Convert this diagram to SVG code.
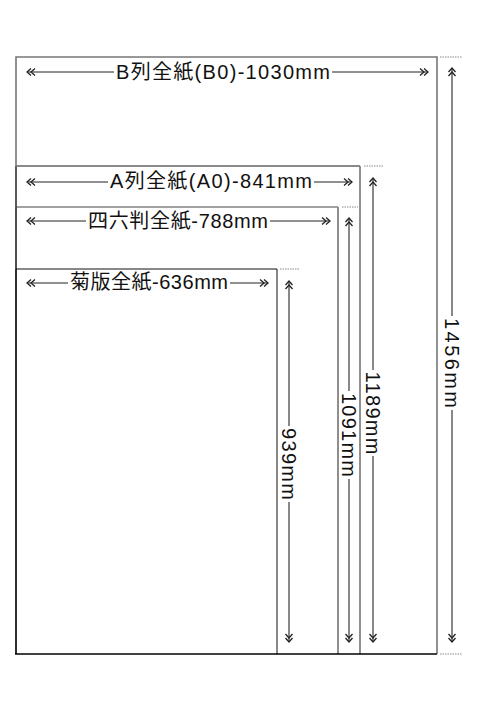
<svg xmlns="http://www.w3.org/2000/svg" width="480" height="720" viewBox="0 0 480 720">
<style>
.lbl{font-family:"Liberation Sans","Noto Sans CJK JP",sans-serif;font-size:20px;fill:#111}
.hl{stroke:#222;stroke-width:1;fill:none}
.vl{stroke:#888;stroke-width:2;fill:none}
.dot{stroke:#888;stroke-width:1;stroke-dasharray:1.5 1}
</style>
<defs>
<marker id="ah" viewBox="0 0 10 10" markerWidth="10" markerHeight="10" refX="9" refY="5" orient="auto-start-reverse" markerUnits="userSpaceOnUse">
<path d="M1,1.5 L5,5 L1,8.5 M5,1.5 L9,5 L5,8.5" fill="none" stroke="#222" stroke-width="1.3"/>
</marker>
</defs>
<rect width="480" height="720" fill="#fff"/>
<g id="b0">
<path d="M16,654 V57 H437 V654" fill="none" stroke="#777" stroke-width="1.6"/>
<text class="lbl" x="116" y="78.5" textLength="214" lengthAdjust="spacing">B列全紙(B0)-1030mm</text>
<text class="lbl" transform="translate(452,363) rotate(90)" x="0" y="7" text-anchor="middle" textLength="90" lengthAdjust="spacing">1456mm</text>
</g>
<g id="a0">
<path d="M16,654 V166 H360 V654" fill="none" stroke="#222" stroke-width="1"/>
<path d="M16,166 H360" stroke="#888" stroke-width="1.5"/>
<text class="lbl" x="110" y="188" textLength="202" lengthAdjust="spacing">A列全紙(A0)-841mm</text>
<text class="lbl" transform="translate(373,413) rotate(90)" x="0" y="7" text-anchor="middle" textLength="83" lengthAdjust="spacing">1189mm</text>
</g>
<g id="shiroku">
<path d="M16,654 V207 H338 V654" fill="none" stroke="#444" stroke-width="1"/>
<path d="M338,207 V654" stroke="#888" stroke-width="1.5"/>
<text class="lbl" x="88" y="228" textLength="180" lengthAdjust="spacing">四六判全紙-788mm</text>
<text class="lbl" transform="translate(349,435) rotate(90)" x="0" y="7" text-anchor="middle" textLength="84" lengthAdjust="spacing">1091mm</text>
</g>
<g id="kiku">
<path d="M16,654 V269 H277 V654" fill="none" stroke="#111" stroke-width="1"/>
<text class="lbl" x="70" y="289" textLength="158" lengthAdjust="spacing">菊版全紙-636mm</text>
<text class="lbl" transform="translate(289,464) rotate(90)" x="0" y="7" text-anchor="middle" textLength="72" lengthAdjust="spacing">939mm</text>
</g>
<path d="M15,654 H437" stroke="#000" stroke-width="1.6"/>
<g id="connectors">
<line class="hl" x1="27" y1="72" x2="114" y2="72" marker-start="url(#ah)"/>
<line class="hl" x1="332" y1="72" x2="428" y2="72" marker-end="url(#ah)"/>
<line class="hl" x1="27" y1="182" x2="108" y2="182" marker-start="url(#ah)"/>
<line class="hl" x1="314" y1="182" x2="352" y2="182" marker-end="url(#ah)"/>
<line class="hl" x1="27" y1="221" x2="86" y2="221" marker-start="url(#ah)"/>
<line class="hl" x1="270" y1="221" x2="330" y2="221" marker-end="url(#ah)"/>
<line class="hl" x1="27" y1="283" x2="68" y2="283" marker-start="url(#ah)"/>
<line class="hl" x1="230" y1="283" x2="268" y2="283" marker-end="url(#ah)"/>
<line class="vl" x1="452" y1="68" x2="452" y2="316" marker-start="url(#ah)"/>
<line class="vl" x1="452" y1="410" x2="452" y2="642" marker-end="url(#ah)"/>
<line class="vl" x1="373" y1="178" x2="373" y2="370" marker-start="url(#ah)"/>
<line class="vl" x1="373" y1="456" x2="373" y2="642" marker-end="url(#ah)"/>
<line class="vl" x1="349" y1="218" x2="349" y2="391" marker-start="url(#ah)"/>
<line class="vl" x1="349" y1="479" x2="349" y2="642" marker-end="url(#ah)"/>
<line class="vl" x1="289" y1="281" x2="289" y2="426" marker-start="url(#ah)"/>
<line class="vl" x1="289" y1="502" x2="289" y2="642" marker-end="url(#ah)"/>
<line class="dot" x1="440" y1="57" x2="462" y2="57"/>
<line class="dot" x1="440" y1="654" x2="462" y2="654"/>
<line class="dot" x1="364" y1="166" x2="384" y2="166"/>
<line class="dot" x1="342" y1="207" x2="358" y2="207"/>
<line class="dot" x1="280" y1="269" x2="300" y2="269"/>
</g>
</svg>
